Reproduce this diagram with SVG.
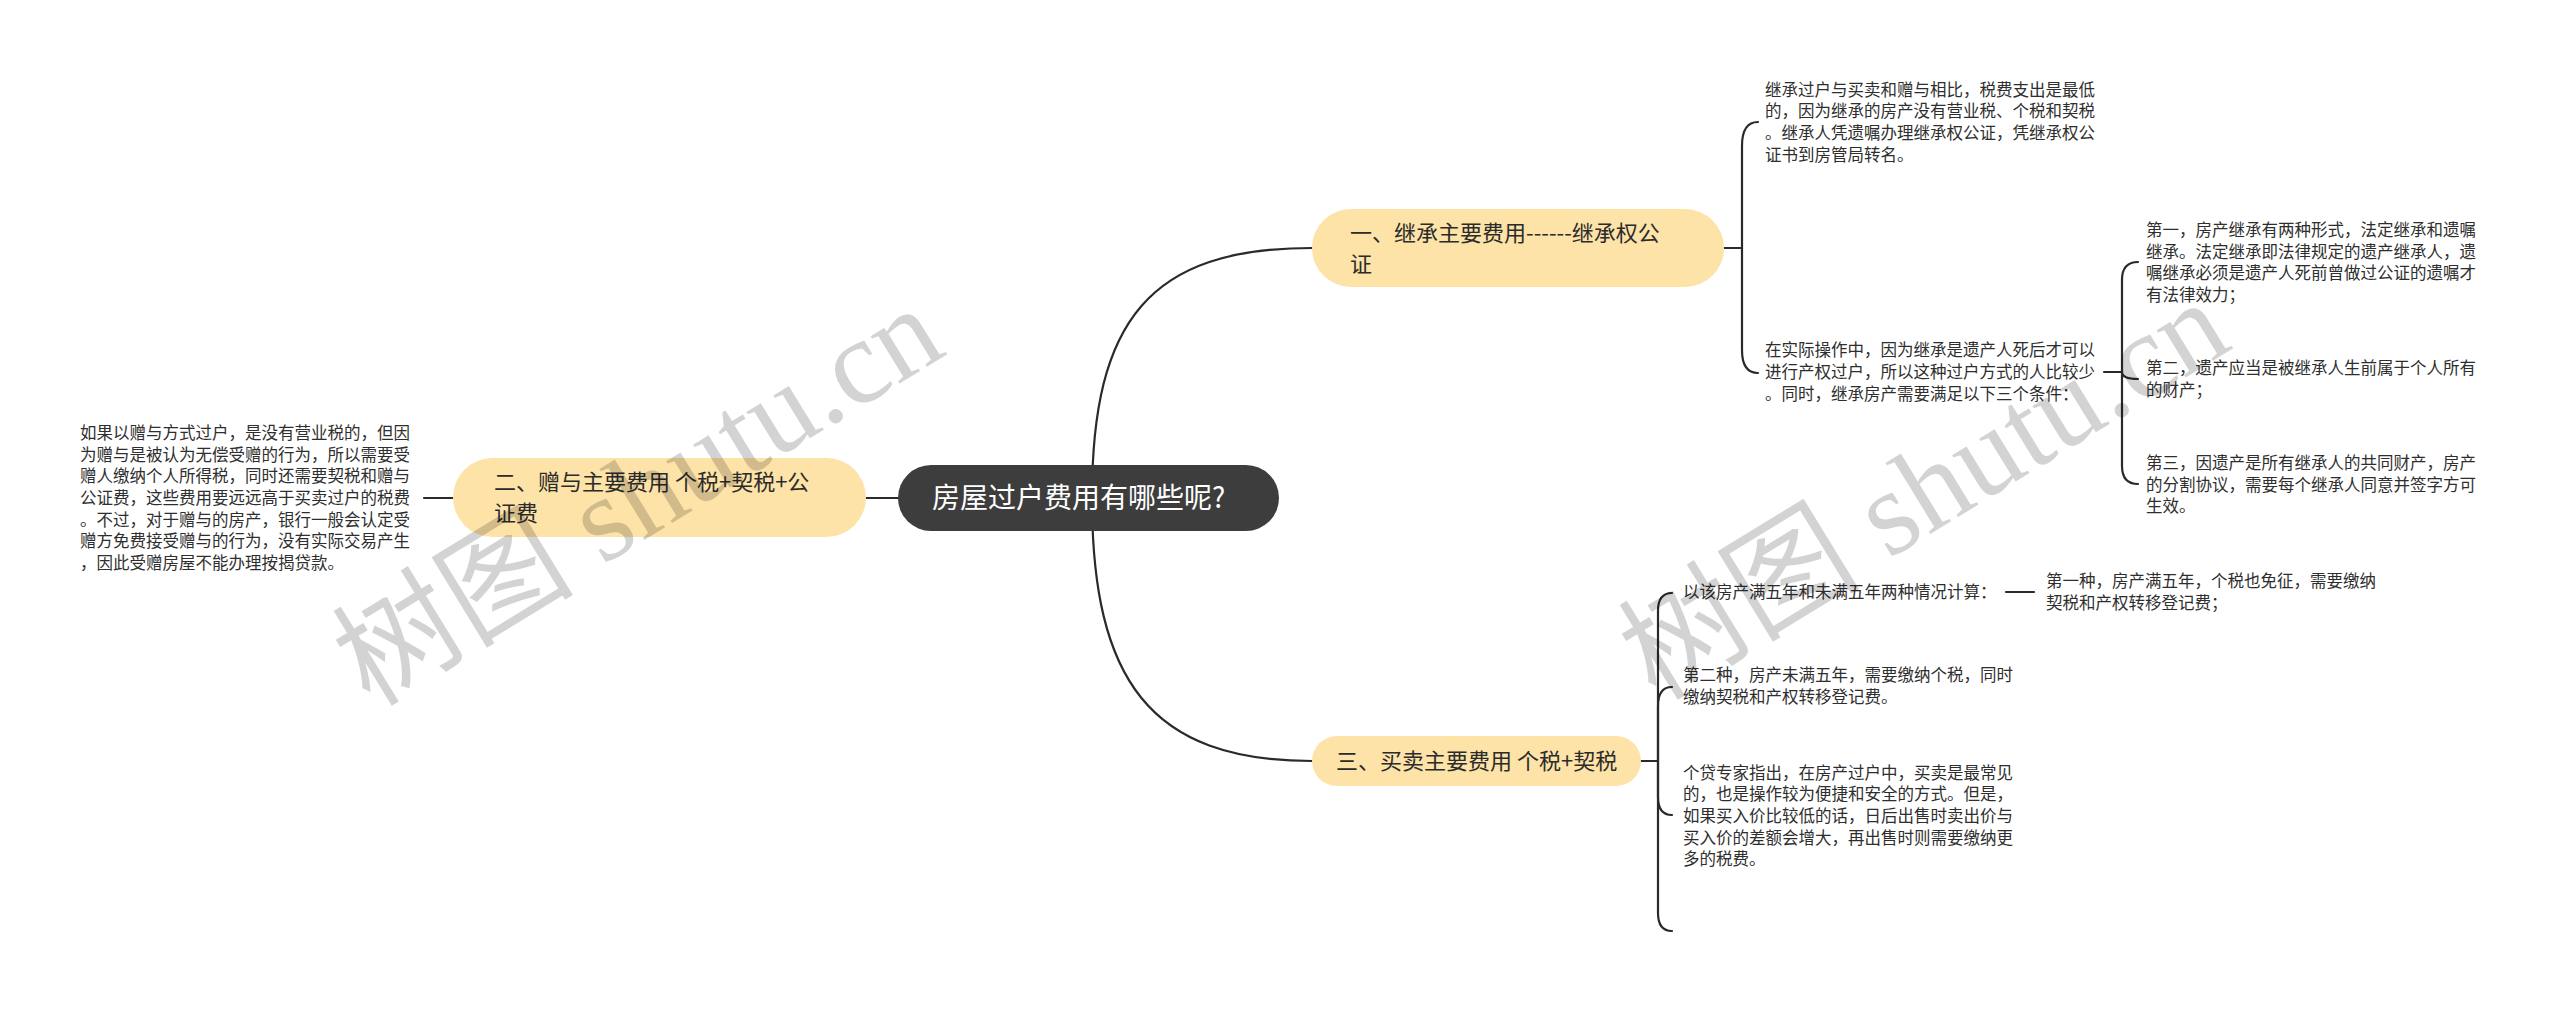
<svg xmlns="http://www.w3.org/2000/svg" width="2560" height="1022" viewBox="0 0 2560 1022">
<style>
.bg{fill:#ffffff}
.ln{fill:none;stroke:#2a2a2a;stroke-width:2.2;stroke-linecap:round}
.root{fill:#3d3d3d}
.pill{fill:#fde3a7}
.rt{font-family:"Noto Sans CJK SC","Noto Sans",sans-serif;font-size:28px;fill:#ffffff}
.bt{font-family:"Noto Sans CJK SC","Noto Sans",sans-serif;font-size:22px;fill:#2b2b2b}
.lt{font-family:"Noto Sans CJK SC","Noto Sans",sans-serif;font-size:16.5px;fill:#2e2e2e}
.wm{font-family:"Liberation Serif","Noto Sans CJK SC",serif;font-size:121px;fill:#000000;opacity:0.17}
</style>
<rect class="bg" x="0" y="0" width="2560" height="1022"/>
<g id="connectors">
<path class="ln" d="M1092,498 C1092,320 1150,248 1312,248"/>
<path class="ln" d="M1092,498 C1092,680 1150,761 1312,761"/>
<path class="ln" d="M1000,498 H866"/>
<path class="ln" d="M453,498 H424"/>
<path class="ln" d="M1724,248 H1742"/>
<path class="ln" d="M1742,248 V146 Q1742,122 1758,122"/>
<path class="ln" d="M1742,248 V350 Q1742,373 1758,373"/>
<path class="ln" d="M2104,372 H2122"/>
<path class="ln" d="M2122,372 V280 Q2122,262 2138,262"/>
<path class="ln" d="M2122,372 Q2122,379 2138,379"/>
<path class="ln" d="M2122,372 V466 Q2122,484 2138,484"/>
<path class="ln" d="M1641,761 H1658"/>
<path class="ln" d="M1658,761 V611 Q1658,593 1672,593"/>
<path class="ln" d="M1658,761 V706 Q1658,687 1672,687"/>
<path class="ln" d="M1658,761 V797 Q1658,815 1672,815"/>
<path class="ln" d="M1658,761 V913 Q1658,931 1672,931"/>
<path class="ln" d="M2006,592 H2034"/>
</g>
<g id="root">
<rect class="root" x="898" y="465" width="381" height="66" rx="33"/>
<text class="rt" x="932" y="508">房屋过户费用有哪些呢?</text>
</g>
<g id="branch1">
<rect class="pill" x="1312" y="209" width="412" height="78" rx="39"/>
<text class="bt" x="1350" y="241">一、继承主要费用------继承权公</text>
<text class="bt" x="1350" y="272">证</text>
</g>
<g id="branch2">
<rect class="pill" x="453" y="458" width="413" height="79" rx="39.5"/>
<text class="bt" x="494" y="490">二、赠与主要费用 个税+契税+公</text>
<text class="bt" x="494" y="521">证费</text>
</g>
<g id="branch3">
<rect class="pill" x="1312" y="736" width="329" height="50" rx="25"/>
<text class="bt" x="1336" y="769">三、买卖主要费用 个税+契税</text>
</g>
<g id="leaf-gift">
<text class="lt" x="80" y="439">如果以赠与方式过户，是没有营业税的，但因</text>
<text class="lt" x="80" y="460.6">为赠与是被认为无偿受赠的行为，所以需要受</text>
<text class="lt" x="80" y="482.3">赠人缴纳个人所得税，同时还需要契税和赠与</text>
<text class="lt" x="80" y="504">公证费，这些费用要远远高于买卖过户的税费</text>
<text class="lt" x="80" y="525.7">。不过，对于赠与的房产，银行一般会认定受</text>
<text class="lt" x="80" y="547.4">赠方免费接受赠与的行为，没有实际交易产生</text>
<text class="lt" x="80" y="569.1">，因此受赠房屋不能办理按揭贷款。</text>
</g>
<g id="leaf-inherit1">
<text class="lt" x="1765" y="95.5">继承过户与买卖和赠与相比，税费支出是最低</text>
<text class="lt" x="1765" y="117.2">的，因为继承的房产没有营业税、个税和契税</text>
<text class="lt" x="1765" y="138.8">。继承人凭遗嘱办理继承权公证，凭继承权公</text>
<text class="lt" x="1765" y="160.5">证书到房管局转名。</text>
</g>
<g id="leaf-inherit2">
<text class="lt" x="1765" y="356.3">在实际操作中，因为继承是遗产人死后才可以</text>
<text class="lt" x="1765" y="378">进行产权过户，所以这种过户方式的人比较少</text>
<text class="lt" x="1765" y="399.7">。同时，继承房产需要满足以下三个条件：</text>
</g>
<g id="cond1">
<text class="lt" x="2146" y="236">第一，房产继承有两种形式，法定继承和遗嘱</text>
<text class="lt" x="2146" y="257.7">继承。法定继承即法律规定的遗产继承人，遗</text>
<text class="lt" x="2146" y="279.4">嘱继承必须是遗产人死前曾做过公证的遗嘱才</text>
<text class="lt" x="2146" y="301.1">有法律效力；</text>
</g>
<g id="cond2">
<text class="lt" x="2146" y="374">第二，遗产应当是被继承人生前属于个人所有</text>
<text class="lt" x="2146" y="395.7">的财产；</text>
</g>
<g id="cond3">
<text class="lt" x="2146" y="469">第三，因遗产是所有继承人的共同财产，房产</text>
<text class="lt" x="2146" y="490.7">的分割协议，需要每个继承人同意并签字方可</text>
<text class="lt" x="2146" y="512.4">生效。</text>
</g>
<g id="leaf-sale1">
<text class="lt" x="1683" y="598">以该房产满五年和未满五年两种情况计算：</text>
</g>
<g id="leaf-sale1a">
<text class="lt" x="2046" y="587">第一种，房产满五年，个税也免征，需要缴纳</text>
<text class="lt" x="2046" y="608.7">契税和产权转移登记费；</text>
</g>
<g id="leaf-sale2">
<text class="lt" x="1683" y="681">第二种，房产未满五年，需要缴纳个税，同时</text>
<text class="lt" x="1683" y="702.7">缴纳契税和产权转移登记费。</text>
</g>
<g id="leaf-sale3">
<text class="lt" x="1683" y="778.6">个贷专家指出，在房产过户中，买卖是最常见</text>
<text class="lt" x="1683" y="800.3">的，也是操作较为便捷和安全的方式。但是，</text>
<text class="lt" x="1683" y="822">如果买入价比较低的话，日后出售时卖出价与</text>
<text class="lt" x="1683" y="843.7">买入价的差额会增大，再出售时则需要缴纳更</text>
<text class="lt" x="1683" y="865.4">多的税费。</text>
</g>
<g id="watermark">
<text class="wm" transform="translate(370,708) rotate(-31.5)">树图 shutu.cn</text>
<text class="wm" transform="translate(1656,702) rotate(-31.5)">树图 shutu.cn</text>
</g>
</svg>
